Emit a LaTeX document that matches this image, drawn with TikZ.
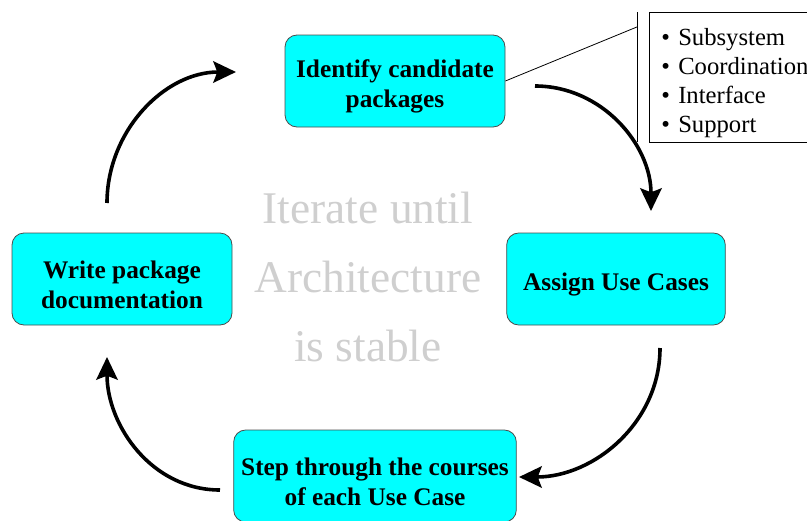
\documentclass[tikz,border=0pt]{standalone}
\usepackage{fontspec}
\setmainfont{Liberation Serif}
\usetikzlibrary{%
  arrows,%
  arrows.meta,%
  positioning,% wg. " of "
  calc
}
\definecolor{boxcyan}{RGB}{0,255,255}
% pushes the first line of a box down a bit
\newcommand{\firstline}{\rule{0pt}{22pt}}

\begin{document}
\begin{tikzpicture}
  [
  x=0.75pt, y=-0.75pt,
  font=\fontsize{19}{22.5}\selectfont\bfseries, >={Stealth[length=17pt,width=16pt,inset=3pt]},
  step box/.style={rectangle, draw=black!70, line width=0.6pt, fill=boxcyan, rounded corners=9pt, align=center},
  cycle/.style={->, line width=2.7pt},
  callout/.style={draw=black, line width=0.6pt},
  note/.style={gray!38, font=\fontsize{34}{52}\selectfont}
  ]

\clip (0,0) rectangle (807,521);

% activity boxes
\node[step box, minimum width=165pt, minimum height=69pt] (identify) at (395,81) {\firstline Identify candidate\\packages};
\node[step box, minimum width=164pt, minimum height=69pt] (assign) at (616,279) {\firstline Assign Use Cases};
\node[step box, minimum width=212pt, minimum height=69pt] (courses) at (375,476) {\firstline Step through the courses\\of each Use Case};
\node[step box, minimum width=165pt, minimum height=69pt] (document) at (122,279) {\firstline Write package\\documentation};

% text in the middle
\node[note, align=center] (iterate) at (368,277) {Iterate until\\Architecture\\is stable};

% kinds of packages
\node[callout, anchor=north west, minimum height=97.5pt, text width=128pt, inner xsep=9pt, align=left,
  font=\fontsize{18.5}{21.7}\selectfont] (kinds) at (649,12)
  {\rule{0pt}{21pt}\textbullet~Subsystem\\\textbullet~Coordination\\\textbullet~Interface\\\textbullet~Support};
\coordinate (bar top) at (637,12);
\coordinate (bar bottom) at (637,142);
\draw[callout] (bar top) -- (bar bottom);
\draw[callout] (identify.east) -- ($(bar top)!0.115!(bar bottom)$);

% the iteration loop
\coordinate (c1) at (535,86);
\coordinate (c2) at (651,211);
\coordinate (c3) at (660,348);
\coordinate (c4) at (519,477);
\coordinate (c5) at (220,490);
\coordinate (c6) at (107,357);
\coordinate (c7) at (107,203);
\coordinate (c8) at (236,72);

\draw[cycle] (c1) to[out=0, in=90] (c2);
\draw[cycle] (c3) to[out=-90, in=0] (c4);
\draw[cycle] (c5) to[out=180, in=-90] (c6);
\draw[cycle] (c7) to[out=90, in=180] (c8);

\end{tikzpicture}
\end{document}
